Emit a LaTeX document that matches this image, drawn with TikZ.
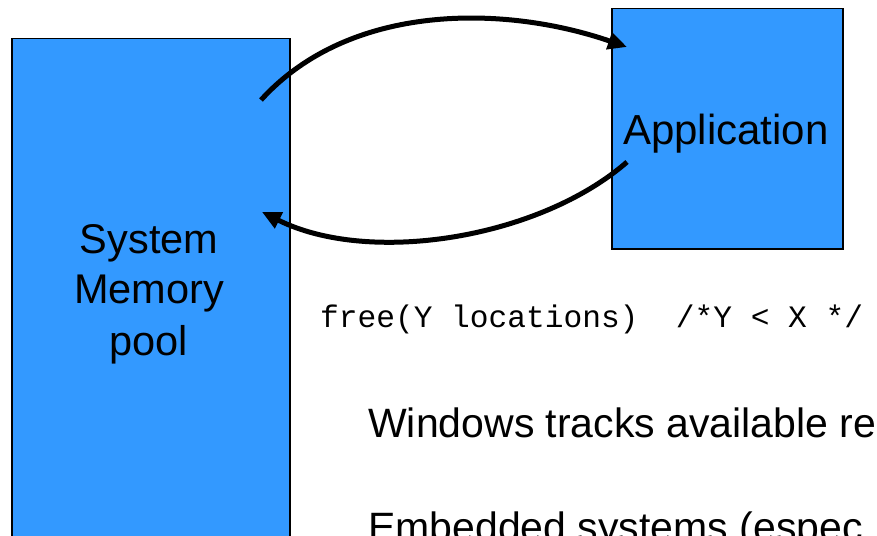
\documentclass[tikz,border=0pt]{standalone}
\usepackage{fontspec}
\setmainfont{Liberation Sans}
\newfontfamily\codefont{Liberation Mono}
\usetikzlibrary{arrows.meta}
\definecolor{boxblue}{HTML}{3399FF}
\tikzset{
  blockbox/.style={draw=black, line width=1.5pt, fill=boxblue, inner sep=0pt},
  bigtext/.style={font=\fontsize{41.5}{49}\selectfont, inner sep=0pt},
  notetext/.style={font=\fontsize{41}{49}\selectfont, inner sep=0pt},
  codetext/.style={font=\codefont\fontsize{31.2}{38}\selectfont, inner sep=0pt},
  flow/.style={line width=5pt, -{Triangle[length=19pt,width=17pt]}}
}
\begin{document}
\begin{tikzpicture}[x=1pt, y=-1pt]
  \useasboundingbox (0,0) rectangle (877,535);
  \clip (0,0) rectangle (877,535);
  \fill[white] (0,0) rectangle (877,535);

  % memory pool and application blocks
  \node[blockbox, anchor=north west, minimum width=278pt, minimum height=540pt] (pool) at (11,38) {};
  \node[blockbox, anchor=north west, minimum width=231pt, minimum height=240pt] (app) at (611,8) {};

  % block labels
  \node[bigtext, anchor=base] (sys1) at (149,253) {System};
  \node[bigtext, anchor=base] (sys2) at (149,303) {Memory};
  \node[bigtext, anchor=base] (sys3) at (149,355) {pool};
  \node[bigtext, font=\fontsize{42}{49}\selectfont, anchor=base] (applabel) at (726,144) {Application};

  % connector end points
  \coordinate (reqstart) at (261,100);
  \coordinate (reqend) at (627,47);
  \coordinate (relstart) at (627,162);
  \coordinate (relend) at (262,212);

  \draw[flow] (reqstart) .. controls (350,2) and (505,5) .. (reqend);
  \draw[flow] (relstart) .. controls (540,238) and (370,266) .. (relend);

  % code and notes
  \node[codetext, anchor=base west] (code) at (320,327) {free(Y locations)\ \ /*Y < X */};
  \node[notetext, anchor=base west] (note1) at (368,437) {Windows tracks available re};
  \node[notetext, anchor=base west] (note2) at (368,541) {Embedded systems (espec};
\end{tikzpicture}
\end{document}
